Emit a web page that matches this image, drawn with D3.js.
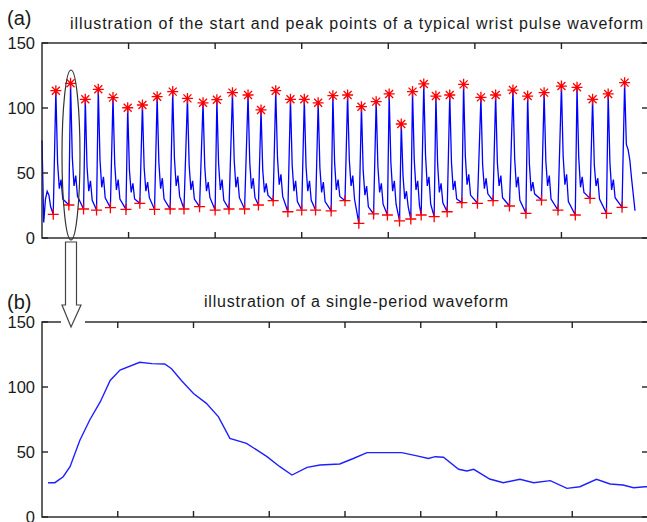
<!DOCTYPE html>
<html>
<head>
<meta charset="utf-8">
<script src="https://cdn.jsdelivr.net/npm/d3@7"></script>
<style>
  body { margin: 0; background: #fff; }
  text { font-family: "Liberation Sans", Arial, sans-serif; fill: #1a1a1a; }
</style>
</head>
<body>
<script>
// panel (a): start (+) and peak (*) points of each beat, sample index / amplitude
var startX = [13, 31, 48, 63, 79, 97, 113, 130, 148, 164, 182, 200, 216, 234, 250, 267, 284, 300, 316, 334,
              350, 366, 383, 399, 413, 426, 438, 453, 468, 485, 503, 521, 540, 559, 577, 596, 616, 633, 652, 670];
var startV = [18.2, 25.4, 22.3, 21.5, 23.3, 22, 26.7, 22, 22.3, 22.3, 24.1, 21.5, 22.3, 22.3, 25.4, 28.7, 20.2, 21.5, 21.5, 20.8,
              28.7, 11.3, 18.5, 17.7, 13.1, 14.6, 17.7, 16.4, 20.2, 27.2, 26.7, 28.7, 24.6, 19, 29.2, 21.5, 17.7, 30.5, 19, 23.6];
var peakX = [16, 33, 50, 65, 82, 99, 116, 133, 151, 168, 186, 202, 220, 238, 253, 270, 287, 303, 319, 336,
             353, 369, 386, 401, 415, 428, 441, 455, 471, 487, 507, 524, 544, 561, 580, 600, 618, 636, 654, 673];
var peakV = [113.3, 119, 106.7, 114.4, 108, 100.2, 102.3, 108.7, 112.6, 107.4, 104, 106.4, 111.8, 110, 98.5, 113.3, 106.7, 106.7, 104, 109.5,
             110, 101, 104.9, 110.8, 87.7, 112.6, 118.5, 109.2, 110, 118.2, 108.2, 110, 113.8, 109.2, 111.8, 116.9, 115.9, 106.7, 110.8, 119.5];
// levels after each peak: dicrotic notch, dip, reflected wave, tail
var notchV = [58, 62, 55, 60, 57, 52, 54, 58, 61, 56, 55, 57, 60, 58, 52, 62, 56, 55, 54, 58,
              60, 52, 55, 58, 48, 60, 64, 57, 58, 63, 56, 58, 61, 57, 59, 63, 62, 56, 58, 72];
var dipV = [38, 40, 36, 39, 37, 35, 36, 38, 40, 37, 36, 37, 39, 38, 35, 41, 36, 36, 35, 37,
            40, 33, 35, 36, 30, 37, 40, 35, 37, 41, 38, 40, 39, 36, 40, 41, 39, 40, 37, 68];
var waveV = [45, 48, 44, 47, 45, 42, 43, 46, 48, 44, 43, 45, 47, 46, 42, 49, 44, 44, 43, 45,
             48, 40, 42, 44, 36, 44, 47, 42, 44, 49, 46, 48, 47, 43, 48, 49, 47, 46, 45, 60];
var tailV = [30, 32, 29, 31, 30, 30, 31, 30, 32, 30, 31, 29, 31, 31, 33, 32, 28, 29, 28, 32,
             30, 24, 26, 26, 24, 25, 26, 27, 30, 33, 34, 31, 29, 34, 30, 28, 35, 30, 31, 46];
// signal before the first start and after the last beat
var headPts = [[0, 75], [2, 12], [4, 30], [6, 36], [8, 33], [10, 24]];
var endPts = [[685, 21]];

// panel (b): single period
var periodX = [0.8, 1.7, 2.8, 3.7, 5.0, 6.3, 7.7, 9.0, 10.3, 12.9, 14.5, 16.2, 17.1, 18.4, 20, 21.7, 23.3, 24.8, 27, 29.7,
               31.4, 33, 35, 36.7, 39.3, 41.1, 42.9, 47.5, 49.5, 51, 51.9, 53, 55, 56.1, 57, 59.1, 60.9, 63.1, 64.9, 67.1,
               69.3, 71, 73.2, 75, 76.7, 78.1, 79.6, 80];
var periodV = [26.4, 26.4, 31, 38.7, 59, 74.6, 88.7, 105, 113, 119, 118, 117.7, 114, 105, 95, 87.4, 77, 60.5, 56.7, 46.4,
               38.7, 32.3, 38.2, 40, 40.8, 45, 49.5, 49.5, 47, 45, 46.4, 46, 36.7, 35.4, 36.7, 29.2, 26.4, 29, 26.4, 28,
               22, 23.3, 29, 25.4, 24.6, 22.5, 23.3, 23.3];

var yTicks = [0, 50, 100, 150];
var titleA = "illustration of the start and peak points of a typical wrist pulse waveform";
var titleB = "illustration of a single-period waveform";

var width = 647;
var height = 522;

var svg = d3.select("body")
            .append("svg")
            .attr("width", width)
            .attr("height", height);

svg.append("rect")
   .attr("width", width)
   .attr("height", height)
   .attr("fill", "#fff");

function drawFrame(x, y, xTicks) {
  var g = svg.append("g");
  var x0 = x.range()[0], x1 = x.range()[1];
  var y0 = y.range()[0], y1 = y.range()[1];

  // y ticks & labels
  yTicks.forEach(function(t) {
    g.append("line").attr("x1", x0).attr("x2", x0 + 6).attr("y1", y(t)).attr("y2", y(t));
    g.append("line").attr("x1", x1).attr("x2", x1 - 6).attr("y1", y(t)).attr("y2", y(t));
    svg.append("text")
       .attr("x", 35)
       .attr("y", y(t))
       .attr("dy", "0.36em")
       .attr("text-anchor", "end")
       .attr("font-size", 16.5)
       .text(t);
  });
  // x ticks (top & bottom, inward)
  xTicks.forEach(function(t) {
    g.append("line").attr("x1", x(t)).attr("x2", x(t)).attr("y1", y0).attr("y2", y0 - 6);
    g.append("line").attr("x1", x(t)).attr("x2", x(t)).attr("y1", y1).attr("y2", y1 + 6);
  });
  g.append("rect")
   .attr("x", x0)
   .attr("y", y1)
   .attr("width", x1 - x0)
   .attr("height", y0 - y1)
   .attr("fill", "none");

  g.attr("stroke", "#222").attr("stroke-width", 1.4);
  return g;
}

// ---------- panel (a) ----------
var xa = d3.scaleLinear().domain([0, 700]).range([42, 648]);
var ya = d3.scaleLinear().domain([0, 150]).range([238, 43]);

var signal = headPts.slice();
for (var i = 0; i < startX.length; i++) {
  signal.push([startX[i], startV[i]]);
  signal.push([peakX[i], peakV[i]]);
  signal.push([peakX[i] + 2, notchV[i]]);
  signal.push([peakX[i] + 4, dipV[i]]);
  signal.push([peakX[i] + 6, waveV[i]]);
  signal.push([peakX[i] + 8, tailV[i]]);
}
signal = signal.concat(endPts);

var lineA = d3.line()
              .x(function(d) { return xa(d[0]); })
              .y(function(d) { return ya(d[1]); });

svg.append("path")
   .datum(signal)
   .attr("d", lineA)
   .attr("fill", "none")
   .attr("stroke", "#0000ff")
   .attr("stroke-width", 1.3);

// start markers (+)
svg.append("g")
   .selectAll("path")
   .data(d3.range(startX.length))
   .enter().append("path")
   .attr("d", function(i) {
     var cx = xa(startX[i]), cy = ya(startV[i]), r = 5.5;
     return "M" + (cx - r) + "," + cy + "H" + (cx + r) + "M" + cx + "," + (cy - r) + "V" + (cy + r);
   })
   .attr("stroke", "#ff0000")
   .attr("stroke-width", 1.3)
   .attr("fill", "none");

// peak markers (*)
svg.append("g")
   .selectAll("path")
   .data(d3.range(peakX.length))
   .enter().append("path")
   .attr("d", function(i) {
     var cx = xa(peakX[i]), cy = ya(peakV[i]), r = 5.5, q = 4;
     return "M" + (cx - r) + "," + cy + "H" + (cx + r) +
            "M" + cx + "," + (cy - r) + "V" + (cy + r) +
            "M" + (cx - q) + "," + (cy - q) + "L" + (cx + q) + "," + (cy + q) +
            "M" + (cx - q) + "," + (cy + q) + "L" + (cx + q) + "," + (cy - q);
   })
   .attr("stroke", "#ff0000")
   .attr("stroke-width", 1.3)
   .attr("fill", "none");

drawFrame(xa, ya, [100, 200, 300, 400, 500, 600]);

svg.append("text")
   .attr("x", 7)
   .attr("y", 25)
   .attr("font-size", 20)
   .text("(a)");

svg.append("text")
   .attr("x", 70)
   .attr("y", 29)
   .attr("font-size", 16)
   .attr("textLength", 573)
   .attr("lengthAdjust", "spacing")
   .text(titleA);

// ---------- panel (b) ----------
var xb = d3.scaleLinear().domain([0, 80]).range([42, 648]);
var yb = d3.scaleLinear().domain([0, 150]).range([517, 322]);

drawFrame(xb, yb, [10, 20, 30, 40, 50, 60, 70]);

svg.append("path")
   .datum(d3.zip(periodX, periodV))
   .attr("d", d3.line()
                .x(function(d) { return xb(d[0]); })
                .y(function(d) { return yb(d[1]); }))
   .attr("fill", "none")
   .attr("stroke", "#2020ff")
   .attr("stroke-width", 1.4);

svg.append("text")
   .attr("x", 7)
   .attr("y", 309)
   .attr("font-size", 20)
   .text("(b)");

svg.append("text")
   .attr("x", 204)
   .attr("y", 307)
   .attr("font-size", 16)
   .attr("textLength", 304)
   .attr("lengthAdjust", "spacing")
   .text(titleB);

// ---------- ellipse around one beat and arrow down to (b) ----------
svg.append("ellipse")
   .attr("cx", 71)
   .attr("cy", 155)
   .attr("rx", 9)
   .attr("ry", 85)
   .attr("fill", "none")
   .attr("stroke", "#333")
   .attr("stroke-width", 1.2);

svg.append("rect")
   .attr("x", 61)
   .attr("y", 317)
   .attr("width", 24)
   .attr("height", 9)
   .attr("fill", "#fff");

svg.append("path")
   .attr("d", "M65.5,242 H76.5 V305 H81 L71,327 L62,305 H65.5 Z")
   .attr("fill", "#fff")
   .attr("stroke", "#444")
   .attr("stroke-width", 1.2)
   .attr("stroke-linejoin", "miter");
</script>
</body>
</html>
